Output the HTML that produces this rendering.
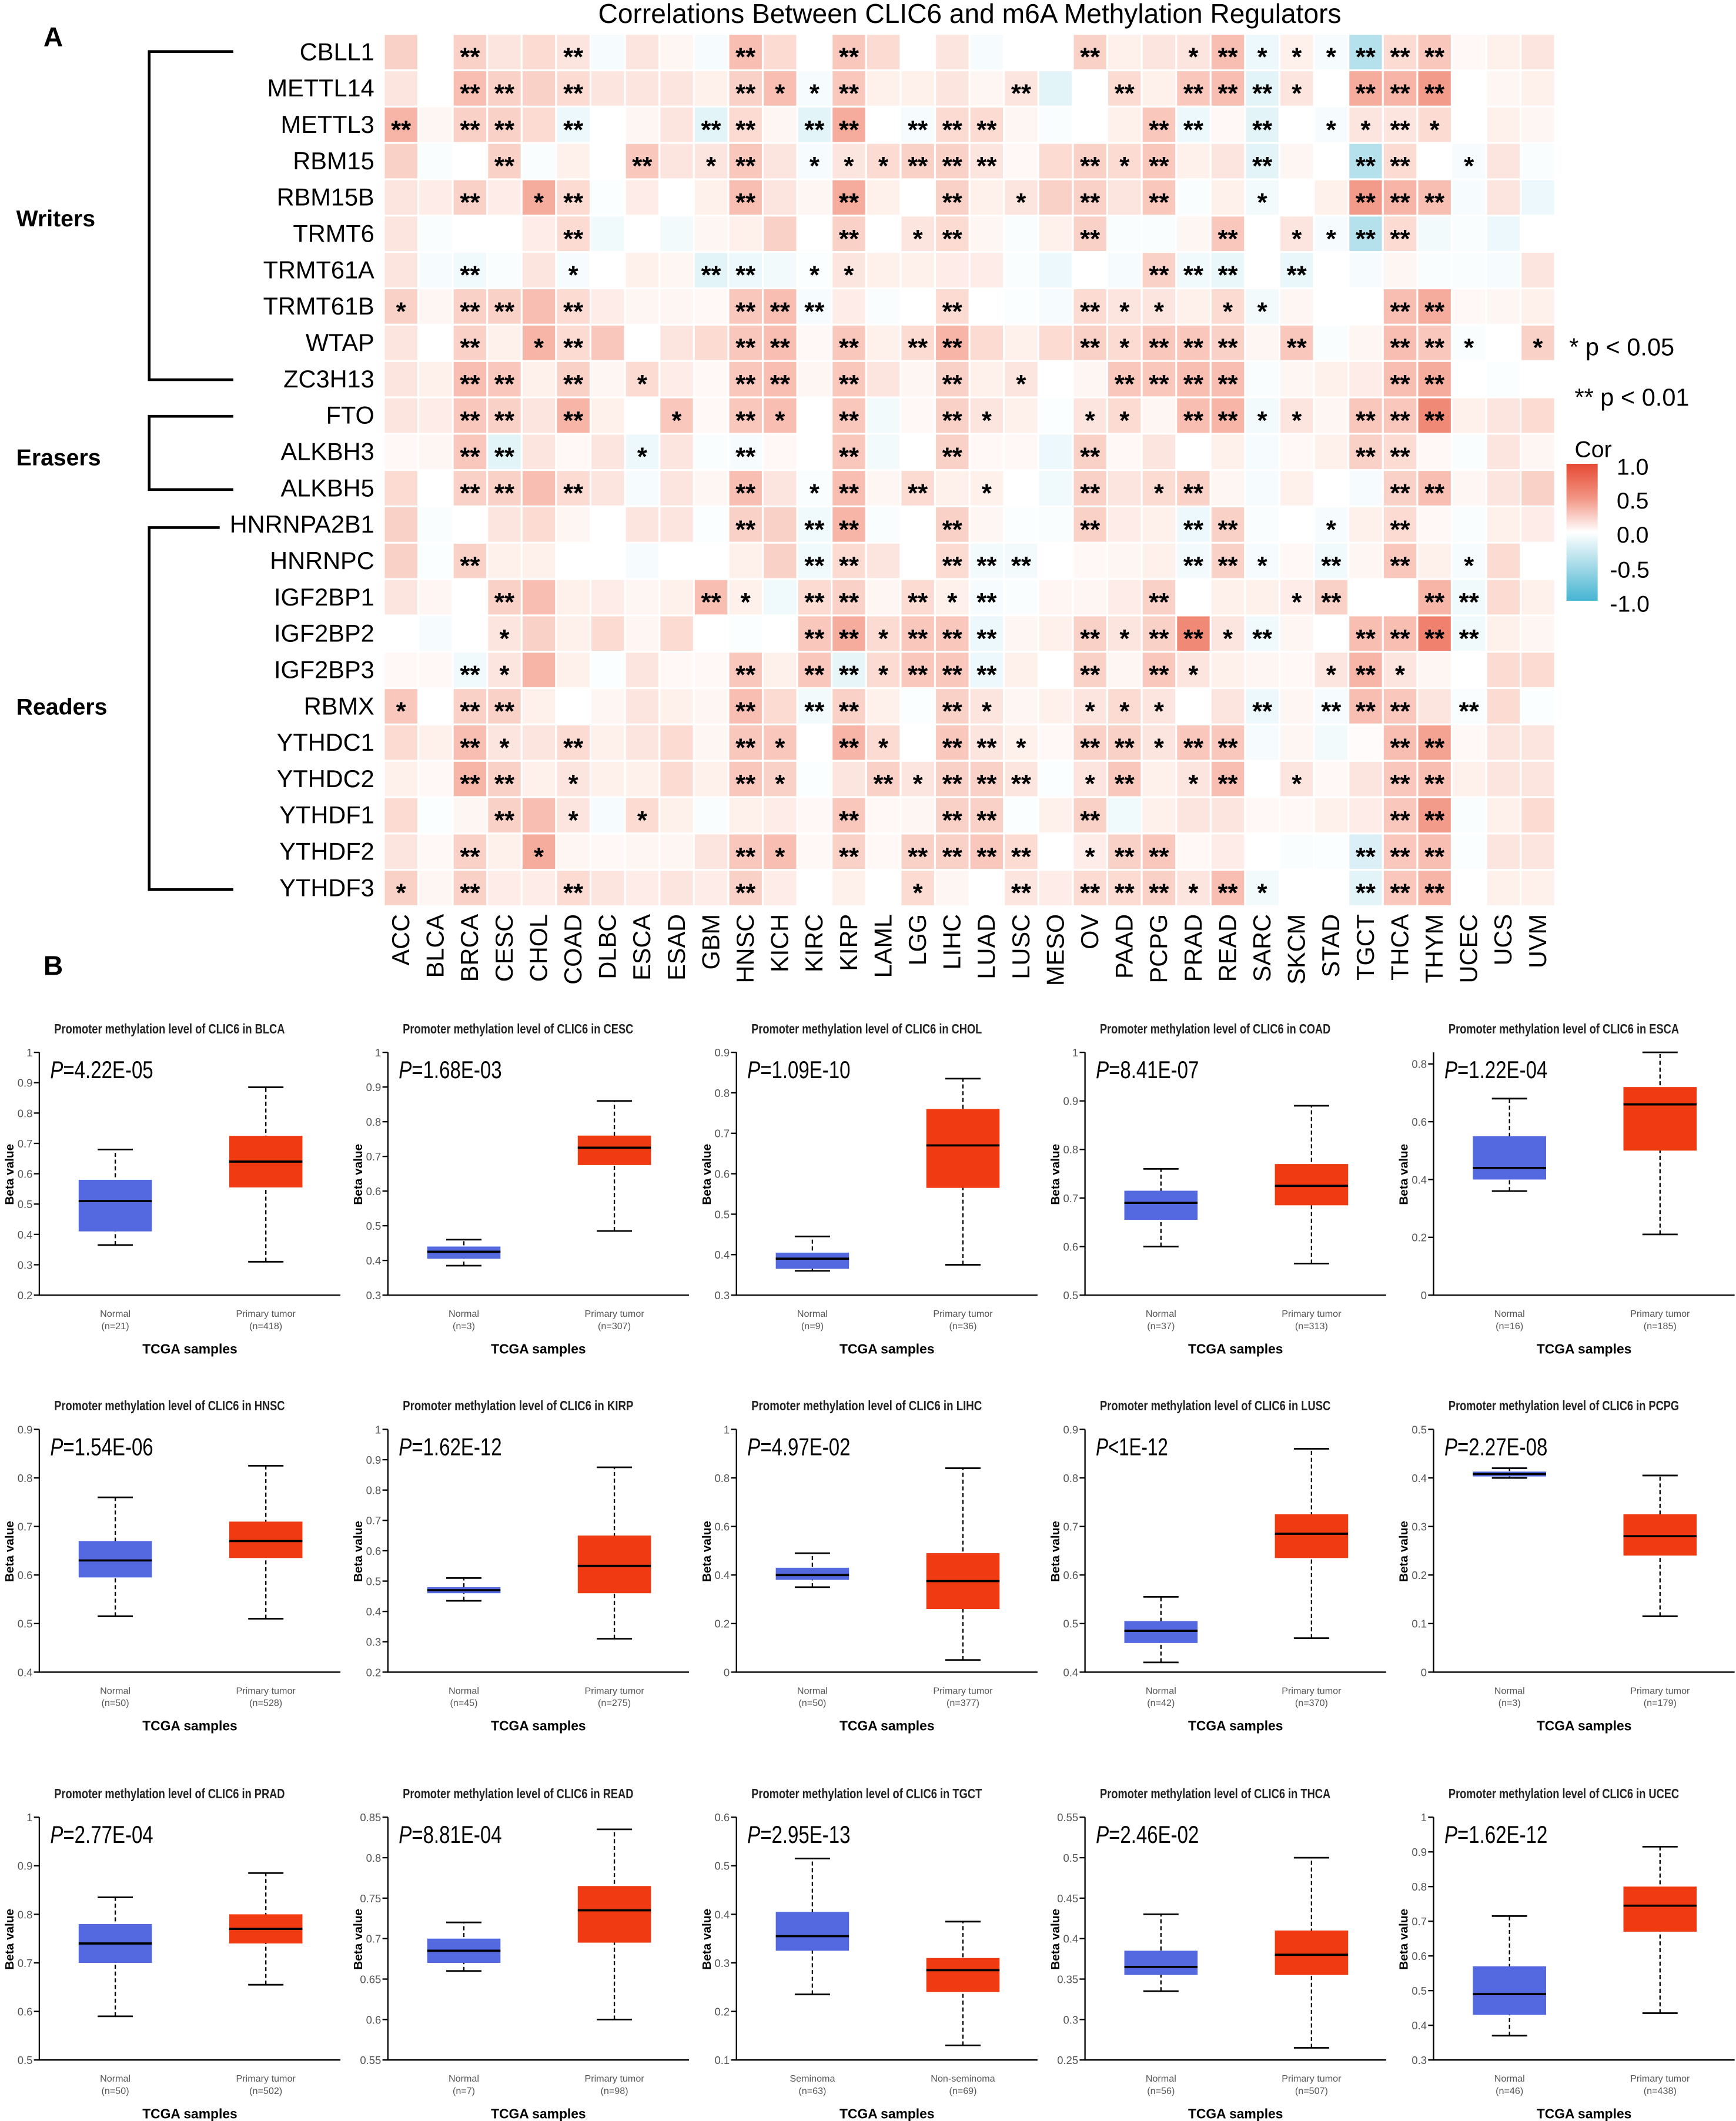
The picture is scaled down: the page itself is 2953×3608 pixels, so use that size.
<!DOCTYPE html>
<html><head><meta charset="utf-8"><style>
html,body{margin:0;padding:0;background:#fff;}
svg{display:block;font-family:"Liberation Sans",Arial,sans-serif;}
</style></head><body>
<svg id="fig" xmlns="http://www.w3.org/2000/svg" width="2953" height="3608" viewBox="0 0 1280 1564" preserveAspectRatio="none">
<rect x="0" y="0" width="1280" height="1564" fill="#fff"/>
<text x="32" y="34" font-size="20" font-weight="bold">A</text>
<text x="715" y="17" font-size="20" text-anchor="middle">Correlations Between CLIC6 and m6A Methylation Regulators</text>
<text x="32" y="719" font-size="20" font-weight="bold">B</text>
<g id="brackets" stroke="#000" stroke-width="2" fill="none">
<path d="M172,38 H110 V280 H172"/>
<path d="M172,307 H110 V361 H172"/>
<path d="M162,389 H110 V656 H172"/>
</g>
<text x="12" y="167" font-size="17" font-weight="bold">Writers</text>
<text x="12" y="343" font-size="17" font-weight="bold">Erasers</text>
<text x="12" y="527" font-size="17" font-weight="bold">Readers</text>
<g id="heat"></g>
<g id="legend">
<text x="1157" y="262" font-size="18">* p &lt; 0.05</text>
<text x="1161" y="299" font-size="18">** p &lt; 0.01</text>
<text x="1161" y="337" font-size="17">Cor</text>
<defs><linearGradient id="cb" x1="0" y1="0" x2="0" y2="1">
<stop offset="0" stop-color="#e64a33"/><stop offset="0.25" stop-color="#f29584"/><stop offset="0.5" stop-color="#ffffff"/><stop offset="0.75" stop-color="#a3d9e7"/><stop offset="1" stop-color="#45b5d2"/></linearGradient></defs>
<rect x="1155" y="342" width="23" height="101" fill="url(#cb)"/>
<text x="1192" y="350" font-size="17">1.0</text>
<text x="1192" y="375" font-size="17">0.5</text>
<text x="1192" y="400" font-size="17">0.0</text>
<text x="1187" y="426" font-size="17">-0.5</text>
<text x="1187" y="451" font-size="17">-1.0</text>
</g>
<g id="boxes"></g>
</svg>
<script>
const NS="http://www.w3.org/2000/svg";
const genes=["CBLL1","METTL14","METTL3","RBM15","RBM15B","TRMT6","TRMT61A","TRMT61B","WTAP","ZC3H13","FTO","ALKBH3","ALKBH5","HNRNPA2B1","HNRNPC","IGF2BP1","IGF2BP2","IGF2BP3","RBMX","YTHDC1","YTHDC2","YTHDF1","YTHDF2","YTHDF3"];
const cancers=["ACC","BLCA","BRCA","CESC","CHOL","COAD","DLBC","ESCA","ESAD","GBM","HNSC","KICH","KIRC","KIRP","LAML","LGG","LIHC","LUAD","LUSC","MESO","OV","PAAD","PCPG","PRAD","READ","SARC","SKCM","STAD","TGCT","THCA","THYM","UCEC","UCS","UVM"];
// correlation values in tenths
const corr=[
[2,0,2,1,1.5,1,-0.5,1,0.3,-0.5,3,1.5,0,2.5,1.5,0,1,-0.5,0,0,2,0.5,1,1,3,-1,0.5,-0.5,-4,1.5,2.5,0.2,0.5,1],
[1,0,3,2,2,1.5,1,1,1,0.5,2,3,-0.5,2.5,0.5,0.5,1,0.3,1,-1.5,0,1.5,0.5,2.5,3,-1.5,1,0,4,3.5,5,0,0.3,0.5],
[3.5,0.3,2,2,1.5,-1,0,0.3,1,-1.5,1.5,0.3,-1.5,4,0,-0.5,1.5,1.5,0.3,-0.3,0,0.5,2.5,-1,0.2,-1.5,0,-0.5,1,1,1.5,0,0.5,0.3],
[2,-0.3,0,2,-0.3,0.5,0,2.5,1,1,2.5,1,-0.5,1,1.5,2,2,1,0.2,1.5,2,1.5,2.5,0.5,1,-1.5,0.3,0,-4,1.5,0,-0.5,1,-0.3],
[1,0.7,2,0.7,4,1.5,-0.2,0.7,0,0.5,3,1,0.3,4,0.5,0,2,0.5,1,2,2,1,2.5,-0.3,0.5,-0.7,0,0.5,5,3.5,3,-0.5,1,-1],
[1,-0.3,0,0,0.7,1.5,-0.8,0,-0.7,0.3,0.5,2,0,2,0,1,1.5,0.3,-0.3,0.5,2,-0.3,-0.3,0.3,2.5,0,1,-0.5,-4,1.5,-0.7,-0.3,-1,0],
[1,-0.5,-0.8,-0.3,1,-0.5,0,0.5,0.3,-1.5,-1,-0.7,-0.2,1,0.5,0.5,0.7,0.7,-0.3,-1,0,-0.5,2,-0.8,-1.2,0,-1.2,0,-0.5,0.3,-0.3,-0.3,-0.5,1],
[2,0.3,2,2,3,1.5,0.7,0.3,0.3,0.2,2.5,3,-0.5,0.7,-0.3,0,1.5,0,-0.2,-0.5,1.5,1,1,0.5,1.5,-0.7,0.3,0,0,3,4,0.2,0.3,0.5],
[1,0,2,0.5,3.5,1.5,2.5,0,1,1.5,2.5,3,0.2,2.5,0.5,1.5,3.5,1.5,0.5,1.5,2,1.5,2.5,2.5,2,0.3,2.5,-0.3,0.3,3,2.5,-0.3,0,2],
[1,0.5,3,2.5,0.5,2,0.3,1.5,0.7,0.2,2.5,3,0.3,2.5,1,0.3,2,0.5,1,0,0.3,2.5,2.5,3,3,-0.3,0.3,0.5,0.7,3,4,0,-0.2,0],
[1,0.7,2.5,2,1,3.5,0.5,0,2.5,0.2,2.5,3,0,2.5,-0.7,0.2,2,1,0.5,-0.2,1,1.5,0.3,3,3.5,-0.7,1,0.3,2.5,2.5,6,0.5,1,1.5],
[0.2,0.3,2.5,-1.5,1,0.2,1,-1,1,-0.3,-0.5,0.2,0,2.5,-0.7,0,2,0.2,0.2,-1,2,0.2,1,0,0.5,-0.5,0.2,0.5,2,1.5,0.2,-0.3,1,0.3],
[1.5,0,2,2,3,1.5,1,-0.5,1,0.3,3,1,-0.3,3,0.3,1.5,0.5,0.5,0,-0.8,2,1,1.5,2,0.3,-0.5,0.5,0,-0.5,2,3,0.3,1,2],
[2,-0.3,0,1,1.5,0.3,0,1,1,-0.2,2,2,-0.8,3.5,-0.3,0,2,0.3,-0.2,-0.3,2,0.7,0.5,-1,2,-0.3,0,-0.5,0.5,1.5,0.2,-0.3,0.5,0.7],
[2,-0.2,2,0.5,0.5,0,0,-0.5,0,0,0.5,2,-0.8,1.5,1,0,1.5,-0.7,-0.7,0,0.2,0.3,0.5,-0.7,2,-0.5,0.2,-0.8,0.3,2.5,0.5,-0.5,1.5,0],
[1,0.3,0,2,3,0.5,0.7,0.3,0.5,3,0.5,-0.8,1.5,2,0.3,1.5,0.5,-0.5,-0.3,0.3,0.3,0.7,2,0,0.5,0.5,0.7,2,0,0,3.5,-0.8,1.5,0.5],
[0,-0.5,0,1,2,0.5,1.5,0.3,1.5,0,-0.2,0,2.5,4,1.5,2.5,2.5,-1,0.3,0.5,2,1,2,6,1,-0.8,0.3,0,3,3,6.5,-0.8,0.5,0.3],
[0.2,0.2,-0.8,1,3.5,0.5,-0.2,1,0.2,0.2,2.5,0.5,2.5,-1.3,1.5,2.5,2.5,-1,0.5,0,2,0.3,2.5,1,0.5,0.3,0.2,1,3.5,1,0.3,0,1.5,1.5],
[2.5,0,2,2,0.5,0,0.3,1,0.5,0.3,3,1.5,-0.7,2,0.5,-0.2,2,1,0.3,0.5,1,1.5,1,0,1,-1,0.3,-0.5,3,2.5,1,-0.3,1.5,-0.2],
[1.5,0.5,3,1,1,1.5,0.5,1,1.5,0.3,2.5,2.5,0,3.5,1.5,0,2.5,1,0.5,0.2,2,2,1,2.5,2.5,-0.5,0.3,-0.7,0.1,3,4.5,0.2,1,1],
[0.5,0.2,3.5,2,0.5,1,0.5,0.5,1.5,0.5,2.5,2,-0.2,1,2,1,2,2,1,-0.2,1,2.5,0.5,1,3,0,1,0.2,1,2.5,3,0.5,1,1],
[1.5,-0.2,0.3,2,3,1,-0.5,1.5,0.5,-0.3,0.5,0.7,0.2,2.5,0.2,0.3,2,2,-0.2,0.5,2,-0.8,0.5,1,1,0.2,0.2,0.5,0.7,2.5,5,-0.3,0.5,1.5],
[1,0.2,2,0.5,4,0.3,0.2,0.3,0.3,1,2.5,3,0.2,2,0.2,2,2,2.5,1.5,0,0.7,2,2.5,0.2,0.7,0,-0.3,-0.2,-2,2.5,3,-0.2,1,1],
[2,0.3,2,0.7,0.7,1.5,1,0.7,1,0.7,2,0.7,0,0.5,0,1.5,0.3,0,1,0.7,1.5,1.5,2,1,3,-0.7,0,0,-1.5,2.5,3.5,0,0.5,0.5]
];
// significance: 0 none, 1 = *, 2 = ** (grouped by 5 columns; spaces ignored)
const stars=[
"00200 20000 20020 00000 20012 11122 2000",
"00220 20000 21120 00020 02022 21022 2000",
"20220 20002 20220 22200 00220 20112 1000",
"00020 00201 20111 22200 21200 20022 0100",
"00201 20000 20020 02010 20200 10022 2000",
"00000 20000 00020 12000 20002 01122 0000",
"00200 10002 20110 00000 00222 02000 0000",
"10220 20000 22200 02000 21101 10002 2000",
"00201 20000 22020 22000 21222 02002 2101",
"00220 20100 22020 02010 02222 00002 2000",
"00220 20010 21020 02100 11022 11022 2000",
"00220 00100 20020 02000 20000 00022 0000",
"00220 20000 20120 20100 20120 00002 2000",
"00000 00000 20220 02000 20022 00102 0000",
"00200 00000 00220 02220 00022 10202 0100",
"00020 00002 10220 21200 00200 01200 2200",
"00010 00000 00221 22200 21221 20022 2200",
"00210 00000 20221 22200 20210 00121 0000",
"10220 00000 20220 02100 11100 20222 0200",
"00210 20000 21021 02210 22122 00002 2000",
"00220 10000 21002 12220 12012 01002 2000",
"00020 10100 00020 02200 20000 00002 2000",
"00201 00000 21020 22220 12200 00022 2000",
"10200 20000 20000 10020 22212 10022 2000"
];
const cx0=283, cw=25.4, cy0=25, ch=26.8;
function xCol(j){return cx0+j*cw;}
function yRow(i){return cy0+i*ch;}
function colorFor(v){
  const t=Math.max(-1,Math.min(1,v/10));
  let r,g,b;
  if(t>=0){r=255+(230-255)*t; g=255+(74-255)*Math.pow(t,0.85); b=255+(51-255)*Math.pow(t,0.8);}
  else{const u=-t; r=255+(69-255)*u; g=255+(181-255)*u; b=255+(210-255)*u;}
  return "rgb("+Math.round(r)+","+Math.round(g)+","+Math.round(b)+")";
}
const heat=document.getElementById('heat');
for(let i=0;i<genes.length;i++){
  const st=stars[i].replace(/\s/g,'');
  const lab=document.createElementNS(NS,'text');
  
  
  lab.setAttribute('x',276);lab.setAttribute('y',yRow(i)+ch/2+6);
  lab.setAttribute('font-size','18');lab.setAttribute('text-anchor','end');
  lab.textContent=genes[i];heat.appendChild(lab);
  for(let j=0;j<cancers.length;j++){
    const r=document.createElementNS(NS,'rect');
    
    
    r.setAttribute('x',xCol(j)+0.7);r.setAttribute('y',yRow(i)+0.7);
    r.setAttribute('width',cw-1.4);r.setAttribute('height',ch-1.4);
    r.setAttribute('fill',colorFor(corr[i][j]));
    heat.appendChild(r);
    const s=+st[j];
    if(s>0){
      const t=document.createElementNS(NS,'text');
      
      
      t.setAttribute('x',xCol(j)+cw/2);t.setAttribute('y',yRow(i)+ch/2+10);
      t.setAttribute('font-size','19');t.setAttribute('font-weight','bold');
      t.setAttribute('text-anchor','middle');
      t.textContent=s===2?"**":"*";heat.appendChild(t);
    }
  }
}
for(let j=0;j<cancers.length;j++){
  const t=document.createElementNS(NS,'text');
  
  
  const x=xCol(j)+cw/2+6, y=674;
  t.setAttribute('x',x);t.setAttribute('y',y);
  t.setAttribute('transform','rotate(-90 '+x+' '+y+')');
  t.setAttribute('font-size','18');t.setAttribute('text-anchor','end');
  t.textContent=cancers[j];heat.appendChild(t);
}

// ---------- Boxplots ----------
const bpCancer=["BLCA","CESC","CHOL","COAD","ESCA","HNSC","KIRP","LIHC","LUSC","PCPG","PRAD","READ","TGCT","THCA","UCEC"];
const bpP=["P=4.22E-05","P=1.68E-03","P=1.09E-10","P=8.41E-07","P=1.22E-04","P=1.54E-06","P=1.62E-12","P=4.97E-02","P<1E-12","P=2.27E-08","P=2.77E-04","P=8.81E-04","P=2.95E-13","P=2.46E-02","P=1.62E-12"];
const bpYMin=[0.2,0.3,0.3,0.5,0,0.4,0.2,0,0.4,0,0.5,0.55,0.1,0.25,0.3];
const bpYMax=[1,1,0.9,1,0.84,0.9,1,1,0.9,0.5,1,0.85,0.6,0.55,1];
const bpTicks=[
["0.2","0.3","0.4","0.5","0.6","0.7","0.8","0.9","1"],
["0.3","0.4","0.5","0.6","0.7","0.8","0.9","1"],
["0.3","0.4","0.5","0.6","0.7","0.8","0.9"],
["0.5","0.6","0.7","0.8","0.9","1"],
["0","0.2","0.4","0.6","0.8"],
["0.4","0.5","0.6","0.7","0.8","0.9"],
["0.2","0.3","0.4","0.5","0.6","0.7","0.8","0.9","1"],
["0","0.2","0.4","0.6","0.8","1"],
["0.4","0.5","0.6","0.7","0.8","0.9"],
["0","0.1","0.2","0.3","0.4","0.5"],
["0.5","0.6","0.7","0.8","0.9","1"],
["0.55","0.6","0.65","0.7","0.75","0.8","0.85"],
["0.1","0.2","0.3","0.4","0.5","0.6"],
["0.25","0.3","0.35","0.4","0.45","0.5","0.55"],
["0.3","0.4","0.5","0.6","0.7","0.8","0.9","1"]
];
// [whiskerLow, q1, median, q3, whiskerHigh]
const bpNormal=[
[0.365,0.41,0.51,0.58,0.68],[0.385,0.405,0.425,0.44,0.46],[0.36,0.365,0.39,0.405,0.445],[0.6,0.655,0.69,0.715,0.76],[0.36,0.4,0.44,0.55,0.68],
[0.515,0.595,0.63,0.67,0.76],[0.435,0.46,0.47,0.48,0.51],[0.35,0.38,0.40,0.43,0.49],[0.42,0.46,0.485,0.505,0.555],[0.40,0.403,0.408,0.413,0.42],
[0.59,0.70,0.74,0.78,0.835],[0.66,0.67,0.685,0.70,0.72],[0.235,0.325,0.355,0.405,0.515],[0.335,0.355,0.365,0.385,0.43],[0.37,0.43,0.49,0.57,0.715]
];
const bpTumor=[
[0.31,0.555,0.64,0.725,0.885],[0.485,0.675,0.725,0.76,0.86],[0.375,0.565,0.67,0.76,0.835],[0.565,0.685,0.725,0.77,0.89],[0.21,0.5,0.66,0.72,0.84],
[0.51,0.635,0.67,0.71,0.825],[0.31,0.46,0.55,0.65,0.875],[0.05,0.26,0.375,0.49,0.84],[0.47,0.635,0.685,0.725,0.86],[0.115,0.24,0.28,0.325,0.405],
[0.655,0.74,0.77,0.80,0.885],[0.6,0.695,0.735,0.765,0.835],[0.13,0.24,0.285,0.31,0.385],[0.265,0.355,0.38,0.41,0.50],[0.435,0.67,0.745,0.80,0.915]
];
const bpGroup1=["Normal","Normal","Normal","Normal","Normal","Normal","Normal","Normal","Normal","Normal","Normal","Normal","Seminoma","Normal","Normal"];
const bpGroup2=["Primary tumor","Primary tumor","Primary tumor","Primary tumor","Primary tumor","Primary tumor","Primary tumor","Primary tumor","Primary tumor","Primary tumor","Primary tumor","Primary tumor","Non-seminoma","Primary tumor","Primary tumor"];
const bpN1=["21","3","9","37","16","50","45","50","42","3","50","7","63","56","46"];
const bpN2=["418","307","36","313","185","528","275","377","370","179","502","98","69","507","438"];

const boxes=document.getElementById('boxes');
const colOff=[0,257,514,771,1028], rowOff=[0,278,564];
for(let p=0;p<bpCancer.length;p++){
  const ox=colOff[p%5], oy=rowOff[Math.floor(p/5)];
  const g=document.createElementNS(NS,'g');
  
  
  g.setAttribute('transform','translate('+ox+','+oy+')');
  boxes.appendChild(g);
  const ax=29, right=251, top=776, bot=955;
  const y=v=>bot-(v-bpYMin[p])/(bpYMax[p]-bpYMin[p])*(bot-top);
  const title=document.createElementNS(NS,'text');
  
  
  title.setAttribute('x',125);title.setAttribute('y',762);title.setAttribute('font-size','10');
  title.setAttribute('font-weight','bold');title.setAttribute('text-anchor','middle');title.setAttribute('fill','#222');
  title.setAttribute('textLength','170');title.setAttribute('lengthAdjust','spacingAndGlyphs');
  title.textContent="Promoter methylation level of CLIC6 in "+bpCancer[p];g.appendChild(title);
  const axl=document.createElementNS(NS,'path');
  
  
  axl.setAttribute('d','M'+ax+','+top+' V'+bot+' H'+right);axl.setAttribute('stroke','#000');axl.setAttribute('fill','none');axl.setAttribute('stroke-width','1');
  g.appendChild(axl);
  for(const tk of bpTicks[p]){
    const v=parseFloat(tk), yy=y(v);
    const tl=document.createElementNS(NS,'line');
    
    
    tl.setAttribute('x1',ax-4);tl.setAttribute('x2',ax);tl.setAttribute('y1',yy);tl.setAttribute('y2',yy);tl.setAttribute('stroke','#000');
    g.appendChild(tl);
    const tt=document.createElementNS(NS,'text');
    
    
    tt.setAttribute('x',ax-5);tt.setAttribute('y',yy+3);tt.setAttribute('font-size','8');tt.setAttribute('fill','#555');tt.setAttribute('text-anchor','end');
    tt.textContent=tk;g.appendChild(tt);
  }
  const yl=document.createElementNS(NS,'text');
  
  
  yl.setAttribute('x',0);yl.setAttribute('y',0);yl.setAttribute('font-size','9');yl.setAttribute('font-weight','bold');yl.setAttribute('text-anchor','middle');
  yl.setAttribute('transform','translate(10,866) rotate(-90)');yl.textContent="Beta value";g.appendChild(yl);
  const pt=document.createElementNS(NS,'text');
  
  
  pt.setAttribute('x',37);pt.setAttribute('y',795);pt.setAttribute('font-size','18');
  pt.setAttribute('textLength',bpP[p].length*7.6);pt.setAttribute('lengthAdjust','spacingAndGlyphs');
  pt.innerHTML='<tspan font-style="italic">P</tspan>'+bpP[p].slice(1).replace('<','&lt;');g.appendChild(pt);
  const groups=[[bpNormal[p],85,'#5468e0',bpGroup1[p],bpN1[p]],[bpTumor[p],196,'#ef3a12',bpGroup2[p],bpN2[p]]];
  groups.forEach((gr,gi)=>{
    const [s,cx,col,nm,n]=gr, bw=54, cap=13;
    const w=document.createElementNS(NS,'line');
    
    
    w.setAttribute('x1',cx);w.setAttribute('x2',cx);w.setAttribute('y1',y(s[0]));w.setAttribute('y2',y(s[4]));
    w.setAttribute('stroke','#000');w.setAttribute('stroke-dasharray','3,2');g.appendChild(w);
    for(const v of [s[0],s[4]]){
      const c=document.createElementNS(NS,'line');
      
      
      c.setAttribute('x1',cx-cap);c.setAttribute('x2',cx+cap);c.setAttribute('y1',y(v));c.setAttribute('y2',y(v));
      c.setAttribute('stroke','#000');c.setAttribute('stroke-width','1.2');g.appendChild(c);
    }
    const b=document.createElementNS(NS,'rect');
    
    
    b.setAttribute('x',cx-bw/2);b.setAttribute('y',y(s[3]));b.setAttribute('width',bw);b.setAttribute('height',Math.max(1,y(s[1])-y(s[3])));
    b.setAttribute('fill',col);g.appendChild(b);
    const m=document.createElementNS(NS,'line');
    
    
    m.setAttribute('x1',cx-bw/2);m.setAttribute('x2',cx+bw/2);m.setAttribute('y1',y(s[2]));m.setAttribute('y2',y(s[2]));
    m.setAttribute('stroke','#000');m.setAttribute('stroke-width','1.6');g.appendChild(m);
    const l1=document.createElementNS(NS,'text');
    
    
    l1.setAttribute('x',cx);l1.setAttribute('y',971);l1.setAttribute('font-size','7');l1.setAttribute('fill','#555');l1.setAttribute('text-anchor','middle');
    l1.textContent=nm;g.appendChild(l1);
    const l2=document.createElementNS(NS,'text');
    
    
    l2.setAttribute('x',cx);l2.setAttribute('y',980);l2.setAttribute('font-size','7');l2.setAttribute('fill','#555');l2.setAttribute('text-anchor','middle');
    l2.textContent="(n="+n+")";g.appendChild(l2);
  });
  const xt=document.createElementNS(NS,'text');
  
  
  xt.setAttribute('x',140);xt.setAttribute('y',998);xt.setAttribute('font-size','10');xt.setAttribute('font-weight','bold');xt.setAttribute('text-anchor','middle');
  xt.setAttribute('textLength','70');xt.setAttribute('lengthAdjust','spacingAndGlyphs');
  xt.textContent="TCGA samples";g.appendChild(xt);
}
</script>
</body></html>
